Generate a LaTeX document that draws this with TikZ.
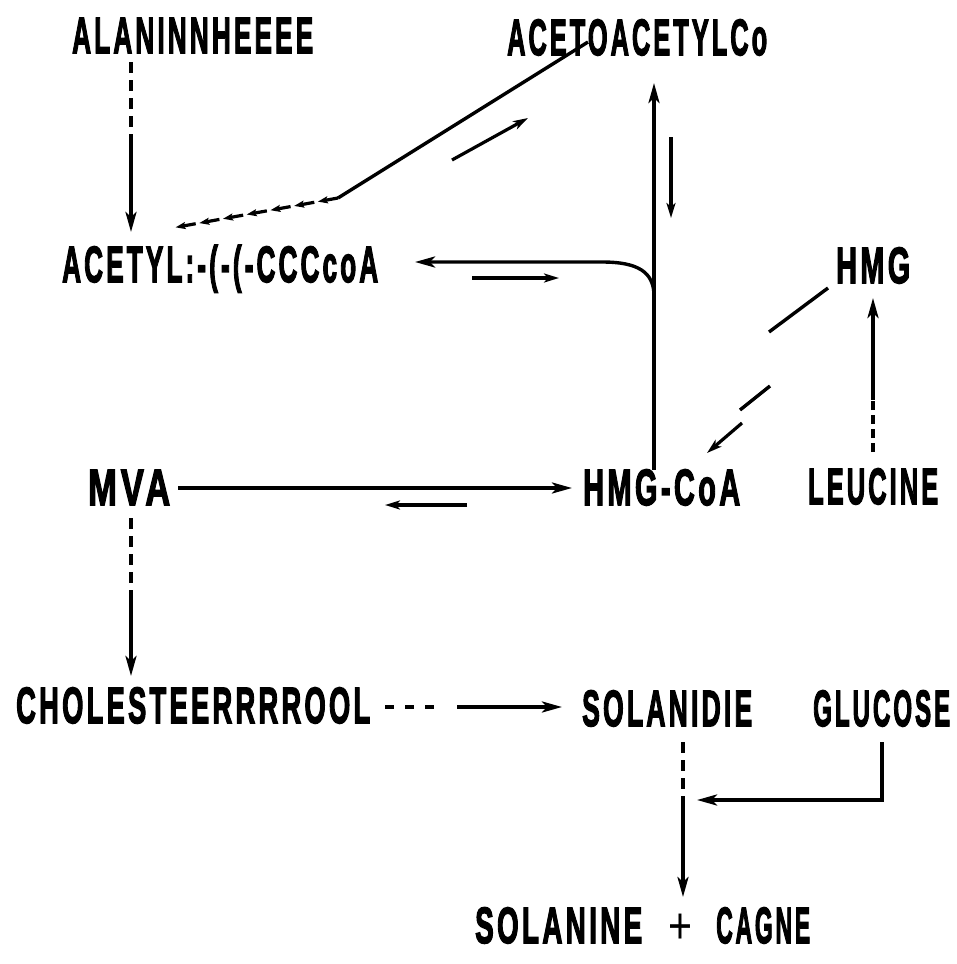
\documentclass[tikz,border=0pt]{standalone}
\usepackage{fontspec}
\setmainfont{Liberation Sans}[BoldFeatures={FakeBold=3.2,LetterSpace=12}]
\usetikzlibrary{arrows.meta,calc}
\newcommand{\fitw}[2]{\resizebox{#1}{\height}{#2}}
\tikzset{
  lbl/.style={inner sep=0pt, anchor=base west, font=\fontsize{51}{51}\selectfont\bfseries},
  ln/.style={line width=3.4pt},
  arr/.style={ln, -{Stealth[length=20pt,width=11pt,inset=5pt]}},
  dsh/.style={ln, dash pattern=on 11pt off 7pt},
  small/.style={line width=3.2pt, -{Stealth[length=15pt,width=9pt,inset=4pt]}},
  tiny/.style={line width=3.2pt, -{Stealth[length=10pt,width=7pt,inset=2pt]}}
}
\begin{document}
\begin{tikzpicture}[x=1pt,y=-1pt]
\useasboundingbox (0,0) rectangle (956,964);
% labels
\node[lbl] (ala) at (72,53) {\fitw{241pt}{ALANINNHEEEE}};
\node[lbl] (acac) at (507,55) {\fitw{260pt}{ACETOACETYLCo}};
\node[lbl] (acetyl) at (62,282) {\fitw{316pt}{ACETYL:-(-(-CCCcoA}};
\node[lbl] (hmg) at (836,283) {\fitw{74pt}{HMG}};
\node[lbl] (mva) at (88,505) {\fitw{82pt}{MVA}};
\node[lbl] (hmgcoa) at (583,505) {\fitw{157pt}{HMG-CoA}};
\node[lbl] (leu) at (808,504) {\fitw{130pt}{LEUCINE}};
\node[lbl] (chol) at (16,723) {\fitw{354pt}{CHOLESTEERRRROOL}};
\node[lbl] (solid) at (582,726) {\fitw{170pt}{SOLANIDIE}};
\node[lbl] (glu) at (813,726) {\fitw{137pt}{GLUCOSE}};
\node[lbl] (sol) at (475,943) {\fitw{167pt}{SOLANINE}\hspace{26pt}\fitw{24pt}{\mdseries +}\hspace{24pt}\fitw{94pt}{CAGNE}};
% alanine -> acetyl-CoA
\coordinate (a1) at (131,62); \coordinate (a2) at (131,135); \coordinate (a3) at (131,232);
\draw[dsh] (a1) -- (a2);
\draw[arr] (a2) -- (a3);
% acetoacetyl-CoA -> acetyl-CoA
\coordinate (b1) at (588,42); \coordinate (b2) at (338,198); \coordinate (b3) at (172,228);
\draw[ln] (b1) -- (b2);
\foreach \i in {0,...,6} {
  \draw[tiny] ($(b2)!{\i/7}!(b3)$) -- ($(b2)!{(\i+0.85)/7}!(b3)$);
}
\coordinate (b4) at (452,160); \coordinate (b5) at (528,118);
\draw[small] (b4) -- (b5);
% HMG-CoA -> acetoacetyl-CoA
\coordinate (c1) at (654,470); \coordinate (c2) at (654,83);
\draw[arr] (c1) -- (c2);
\coordinate (c5) at (671,137); \coordinate (c6) at (671,218);
\draw[small] (c5) -- (c6);
% HMG-CoA -> acetyl-CoA
\coordinate (c3) at (654,296); \coordinate (c4) at (415,262);
\draw[arr] (c3) .. controls (654,272) and (638,262) .. (602,262) -- (c4);
\coordinate (c7) at (472,278); \coordinate (c8) at (559,278);
\draw[small] (c7) -- (c8);
% HMG -> HMG-CoA
\coordinate (d1) at (828,288); \coordinate (d2) at (769,332);
\coordinate (d3) at (770,386); \coordinate (d4) at (740,410);
\coordinate (d5) at (742,423); \coordinate (d6) at (707,453);
\draw[ln] (d1) -- (d2);
\draw[ln] (d3) -- (d4);
\draw[small] (d5) -- (d6);
% leucine -> HMG
\coordinate (e1) at (873,452); \coordinate (e2) at (873,400); \coordinate (e3) at (873,298);
\draw[ln, dash pattern=on 9pt off 5pt] (e1) -- (e2);
\draw[arr] (e2) -- (e3);
% MVA <-> HMG-CoA
\coordinate (f1) at (178,488); \coordinate (f2) at (572,488);
\draw[arr] (f1) -- (f2);
\coordinate (f3) at (467,505); \coordinate (f4) at (385,505);
\draw[small] (f3) -- (f4);
% MVA -> cholesterol
\coordinate (g1) at (131,518); \coordinate (g2) at (131,600); \coordinate (g3) at (131,676);
\draw[dsh] (g1) -- (g2);
\draw[arr] (g2) -- (g3);
% cholesterol -> solanidine
\coordinate (h1) at (385,707); \coordinate (h2) at (442,707);
\coordinate (h3) at (457,707); \coordinate (h4) at (562,707);
\draw[ln, dash pattern=on 9pt off 11pt] (h1) -- (h2);
\draw[arr] (h3) -- (h4);
% solanidine -> solanine
\coordinate (i1) at (683,742); \coordinate (i2) at (683,805); \coordinate (i3) at (683,897);
\draw[dsh] (i1) -- (i2);
\draw[arr] (i2) -- (i3);
% glucose -> join
\coordinate (j1) at (882,742); \coordinate (j2) at (882,800); \coordinate (j3) at (697,800);
\draw[arr] (j1) -- (j2) -- (j3);
\end{tikzpicture}
\end{document}
